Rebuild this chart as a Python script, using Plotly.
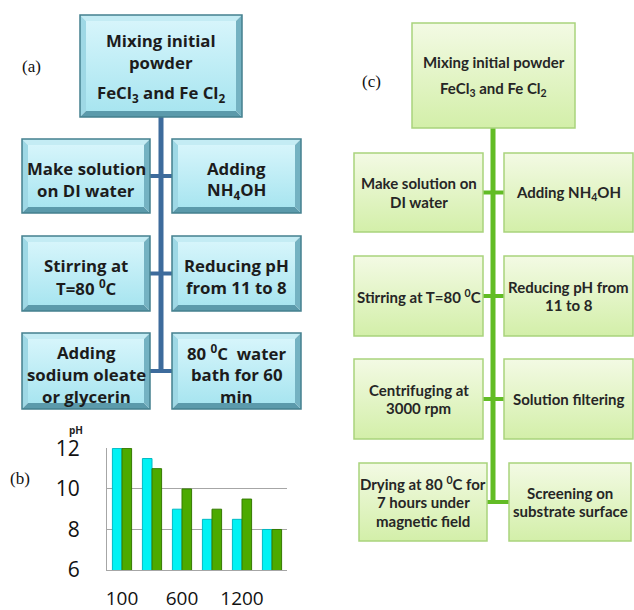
import plotly.graph_objects as go

# ---------------- data ----------------
categories = ["100", "300", "600", "900", "1200", "1500"]
ph_cyan = [12, 11.5, 9, 8.5, 8.5, 8]
ph_green = [12, 11, 10, 9, 9.5, 8]
x_tick_labels = ["100", "600", "1200"]
y_ticks = [6, 8, 10, 12]

a_top_title = "Mixing initial<br>powder"
a_top_formula = "FeCl<sub>3</sub> and Fe Cl<sub>2</sub>"
a_left = ["Make solution<br>on DI water", "Stirring at<br>T=80 <sup>0</sup>C",
          "Adding<br>sodium oleate<br>or glycerin"]
a_right = ["Adding<br>NH<sub>4</sub>OH", "Reducing pH<br>from 11 to 8",
           "80 <sup>0</sup>C  water<br>bath for 60<br>min"]

c_top_title = "Mixing initial powder"
c_top_formula = "FeCl<sub>3</sub> and Fe Cl<sub>2</sub>"
c_left = ["Make solution on<br>DI water", "Stirring at T=80 <sup>0</sup>C",
          "Centrifuging at<br>3000 rpm", "Drying at 80 <sup>0</sup>C for<br>7 hours under<br>magnetic field"]
c_right = ["Adding NH<sub>4</sub>OH", "Reducing pH from<br>11 to 8",
           "Solution filtering", "Screening on<br>substrate surface"]

W, H = 634, 610
fig = go.Figure()

# ---------------- (b) bar chart ----------------
fig.add_trace(go.Bar(x=categories, y=ph_cyan, xaxis="x", yaxis="y",
                     marker=dict(color="#00F2F4", line=dict(color="#00B9C4", width=1)),
                     showlegend=False, hoverinfo="skip"))
fig.add_trace(go.Bar(x=categories, y=ph_green, xaxis="x", yaxis="y",
                     marker=dict(color="#4CAA00", line=dict(color="#347A00", width=1)),
                     showlegend=False, hoverinfo="skip"))

shapes = []
annotations = []

def ann(x, y, text, size, family="Open Sans", color="#1c1c1c", bold=False):
    annotations.append(dict(x=x, y=y, xref="x2", yref="y2", text=text, showarrow=False,
                            align="center", xanchor="center", yanchor="middle",
                            font=dict(family=family, size=size, color=color,
                                      weight=("bold" if bold else "normal"))))

def lines(x, yc, text, spacing, size, family, color, bold=True):
    parts = text.split("<br>")
    n = len(parts)
    for i, p in enumerate(parts):
        ann(x, yc + (i - (n - 1) / 2) * spacing, p, size, family=family, color=color, bold=bold)

def poly_trace(pts, color):
    xs = [p[0] for p in pts] + [pts[0][0]]
    ys = [p[1] for p in pts] + [pts[0][1]]
    fig.add_trace(go.Scatter(x=xs, y=ys, xaxis="x2", yaxis="y2", mode="lines",
                             line=dict(width=0), fill="toself", fillcolor=color,
                             hoverinfo="skip", showlegend=False))

def face(x0, y0, x1, y1, ctop, cbot):
    fig.add_trace(go.Scatter(x=[x0, x1, x1, x0, x0], y=[y0, y0, y1, y1, y0],
                             xaxis="x2", yaxis="y2", mode="lines", line=dict(width=0),
                             fill="toself",
                             fillgradient=dict(type="vertical", colorscale=[[0, ctop], [1, cbot]],
                                               start=y0, stop=y1),
                             hoverinfo="skip", showlegend=False))

def bevel_box(x0, y0, x1, y1, b=6):
    poly_trace([(x0, y0), (x1, y0), (x1 - b, y0 + b), (x0 + b, y0 + b)], "#C4ECF4")
    poly_trace([(x0, y0), (x0 + b, y0 + b), (x0 + b, y1 - b), (x0, y1)], "#9ED8E5")
    poly_trace([(x0, y1), (x1, y1), (x1 - b, y1 - b), (x0 + b, y1 - b)], "#5B9AAB")
    poly_trace([(x1, y0), (x1, y1), (x1 - b, y1 - b), (x1 - b, y0 + b)], "#74B2C2")
    face(x0 + b, y0 + b, x1 - b, y1 - b, "#D6F5FB", "#A8E5F0")
    shapes.append(dict(type="rect", x0=x0, y0=y0, x1=x1, y1=y1, xref="x2", yref="y2",
                       line=dict(color="#44808F", width=1.5), fillcolor="rgba(0,0,0,0)"))

def green_box(x0, y0, x1, y1):
    face(x0, y0, x1, y1, "#F3FAE4", "#D3EFA9")
    shapes.append(dict(type="rect", x0=x0, y0=y0, x1=x1, y1=y1, xref="x2", yref="y2",
                       line=dict(color="#A9D37C", width=1.5), fillcolor="rgba(0,0,0,0)"))

def seg(x0, y0, x1, y1, color, w):
    shapes.append(dict(type="line", x0=x0, y0=y0, x1=x1, y1=y1, xref="x2", yref="y2",
                       line=dict(color=color, width=w)))

A_FONT, A_SIZE, A_SP = "Open Sans", 16.8, 22
C_FONT, C_SIZE, C_SP = "Lato", 15, 18.5
TXT = "#1c1c1c"
C_TXT = "#262626"

# ---------------- (a) flowchart ----------------
blue = "#3D6B9C"
a_rows = [(139, 213), (236, 311), (333, 409)]
seg(161, 117, 161, 372, blue, 5)
for (t, b) in a_rows:
    yc = (t + b) / 2
    seg(150, yc, 172, yc, blue, 4)
bevel_box(80, 15, 242, 117)
lines(161, 51, a_top_title, A_SP, A_SIZE, A_FONT, TXT)
ann(161, 93, a_top_formula, A_SIZE, family=A_FONT, color=TXT, bold=True)
for i, (t, b) in enumerate(a_rows):
    bevel_box(22, t, 150, b)
    bevel_box(172, t, 301, b)
    lines(86, (t + b) / 2 + 3, a_left[i], A_SP, A_SIZE, A_FONT, TXT)
    lines(236.5, (t + b) / 2 + 3, a_right[i], A_SP, A_SIZE, A_FONT, TXT)

# ---------------- (c) flowchart ----------------
green = "#62BC25"
c_rows = [(153, 232), (256, 336), (359, 439), (463, 541)]
c_lx = [(354, 483), (354, 483), (354, 483), (359, 487)]
c_rx = [(504, 633), (504, 633), (504, 633), (509, 631)]
seg(493, 128, 493, 503, green, 5)
for i, (t, b) in enumerate(c_rows):
    yc = (t + b) / 2
    seg(c_lx[i][1], yc, c_rx[i][0], yc, green, 4)
green_box(412, 23, 575, 128)
ann(493.5, 62, c_top_title, C_SIZE, family=C_FONT, bold=True, color=C_TXT)
ann(493.5, 89, c_top_formula, C_SIZE, family=C_FONT, bold=True, color=C_TXT)
for i, (t, b) in enumerate(c_rows):
    green_box(c_lx[i][0], t, c_lx[i][1], b)
    green_box(c_rx[i][0], t, c_rx[i][1], b)
    lines((c_lx[i][0] + c_lx[i][1]) / 2, (t + b) / 2, c_left[i], C_SP, C_SIZE, C_FONT, C_TXT)
    lines((c_rx[i][0] + c_rx[i][1]) / 2, (t + b) / 2, c_right[i], C_SP, C_SIZE, C_FONT, C_TXT)

# panel labels
ann(31, 66, "(a)", 17, family="Liberation Serif", color="#111")
ann(20, 478, "(b)", 17, family="Liberation Serif", color="#111")
ann(371, 81, "(c)", 17, family="Liberation Serif", color="#111")
ann(76, 430, "pH", 10, family="Open Sans", bold=True, color="#222")

fig.update_layout(
    width=W, height=H, margin=dict(l=0, r=0, t=0, b=0, pad=0, autoexpand=False),
    paper_bgcolor="white", plot_bgcolor="rgba(0,0,0,0)",
    barmode="group", bargap=0.36, bargroupgap=0.0,
    xaxis=dict(domain=[107 / W, 287 / W], anchor="y", type="category",
               tickvals=x_tick_labels, ticktext=x_tick_labels,
               showline=True, linecolor="#A6A6A6", linewidth=1,
               ticks="", showgrid=False, ticklabelstandoff=11, automargin=False,
               tickfont=dict(family="Open Sans", size=19, color="#111"),
               fixedrange=True),
    yaxis=dict(domain=[1 - 570 / H, 1 - 448 / H], anchor="x", range=[6, 12.02],
               tickvals=y_ticks, showline=True, linecolor="#A6A6A6", linewidth=1,
               gridcolor="#A6A6A6", gridwidth=1, zeroline=False, ticks="",
               ticklabelstandoff=22, automargin=False,
               tickfont=dict(family="Open Sans", size=21, color="#111"),
               fixedrange=True),
    xaxis2=dict(domain=[0, 1], anchor="y2", range=[0, W], visible=False,
                automargin=False, fixedrange=True),
    yaxis2=dict(domain=[0, 1], anchor="x2", range=[H, 0], visible=False,
                automargin=False, fixedrange=True),
    shapes=shapes, annotations=annotations,
)

fig.write_html("out.html")
